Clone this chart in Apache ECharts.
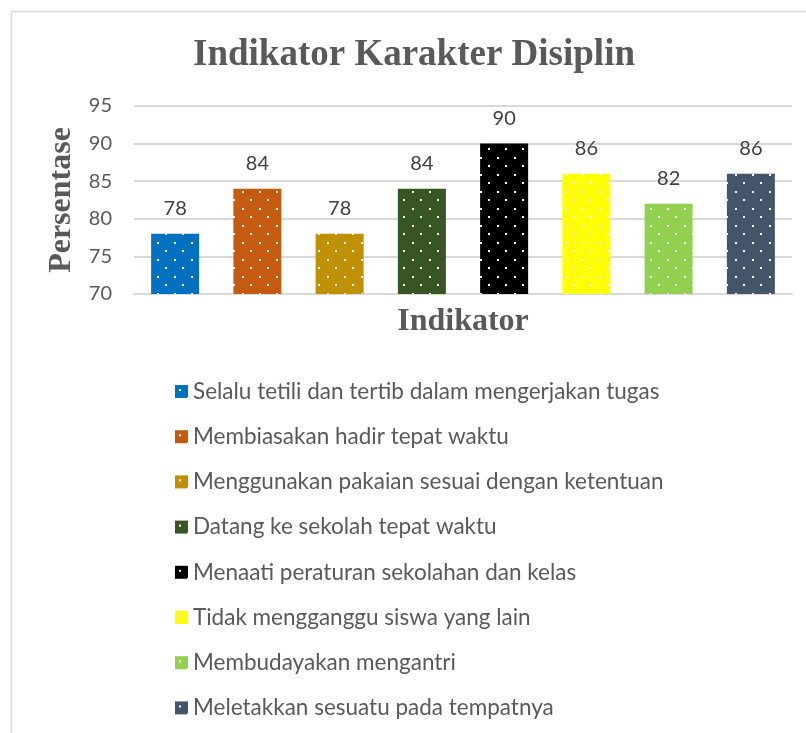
<!DOCTYPE html>
<html>
<head>
<meta charset="utf-8">
<script src="https://cdn.jsdelivr.net/npm/echarts@6/dist/echarts.min.js"></script>
<style>html,body{margin:0;padding:0;background:#fff}#c{width:806px;height:733px}</style>
</head>
<body>
<div id="c"></div>
<script>
const categories = [
  'Selalu tetili dan tertib dalam mengerjakan tugas',
  'Membiasakan hadir tepat waktu',
  'Menggunakan pakaian sesuai dengan ketentuan',
  'Datang ke sekolah tepat waktu',
  'Menaati peraturan sekolahan dan kelas',
  'Tidak mengganggu siswa yang lain',
  'Membudayakan mengantri',
  'Meletakkan sesuatu pada tempatnya'
];
const values = [78, 84, 78, 84, 90, 86, 82, 86];
const colors = ['#0070C0', '#C55A11', '#BF9000', '#375623', '#000000', '#FFFF00', '#92D050', '#44546A'];
const yTicks = [70, 75, 80, 85, 90, 95];

function pattern(bg) {
  const s = 17;
  const cv = document.createElement('canvas');
  cv.width = s; cv.height = s;
  const ctx = cv.getContext('2d');
  ctx.fillStyle = bg; ctx.fillRect(0, 0, s, s);
  ctx.fillStyle = '#ffffff';
  ctx.fillRect(4, 4, 2, 2);
  ctx.fillRect(12, 12, 2, 2);
  return { image: cv, repeat: 'repeat' };
}

const chart = echarts.init(document.getElementById('c'), null, { renderer: 'canvas' });
const series = categories.map((name, i) => ({
  name: name,
  type: 'bar',
  barWidth: 48,
  barGap: '-100%',
  data: categories.map((c, j) => j === i ? values[j] : '-'),
  itemStyle: { color: pattern(colors[i]) },
  label: {
    show: true, position: 'top', distance: 15,
    color: '#404040', fontSize: 20, fontFamily: 'Lato'
  }
}));

chart.setOption({
  animation: false,
  backgroundColor: '#ffffff',
  graphic: [{
    type: 'rect', left: 9, top: 9,
    shape: { width: 900, height: 900 },
    style: { fill: 'none', stroke: '#d9d9d9', lineWidth: 1.5 }
  }],
  title: {
    text: 'Indikator Karakter Disiplin',
    left: 409, top: 32, textAlign: 'center',
    textStyle: { fontFamily: 'Liberation Serif', fontWeight: 'bold', fontSize: 37, color: '#595959' }
  },
  grid: { left: 134, right: 14, top: 106, height: 188, containLabel: false },
  legend: {
    orient: 'vertical', left: 170, top: 375,
    itemWidth: 13, itemHeight: 13, itemGap: 22.2,
    icon: 'rect',
    textStyle: { fontFamily: 'Lato', fontSize: 22.5, color: '#595959', lineHeight: 22 },
    data: categories
  },
  xAxis: {
    type: 'category', data: categories,
    axisLabel: { show: false }, axisTick: { show: false },
    axisLine: { lineStyle: { color: '#d9d9d9', width: 2 } },
    name: 'Indikator', nameLocation: 'middle', nameGap: 12,
    nameTextStyle: { fontFamily: 'Liberation Serif', fontWeight: 'bold', fontSize: 32, color: '#595959' }
  },
  yAxis: {
    type: 'value', min: yTicks[0], max: yTicks[yTicks.length - 1], interval: 5,
    axisLine: { show: false }, axisTick: { show: false },
    axisLabel: { color: '#595959', fontSize: 20, fontFamily: 'Lato', margin: 22 },
    splitLine: { lineStyle: { color: '#d9d9d9', width: 2 } },
    name: 'Persentase', nameLocation: 'middle', nameGap: 56, nameRotate: 90,
    nameTextStyle: { fontFamily: 'Liberation Serif', fontWeight: 'bold', fontSize: 32, color: '#595959' }
  },
  series: series
});
</script>
</body>
</html>
